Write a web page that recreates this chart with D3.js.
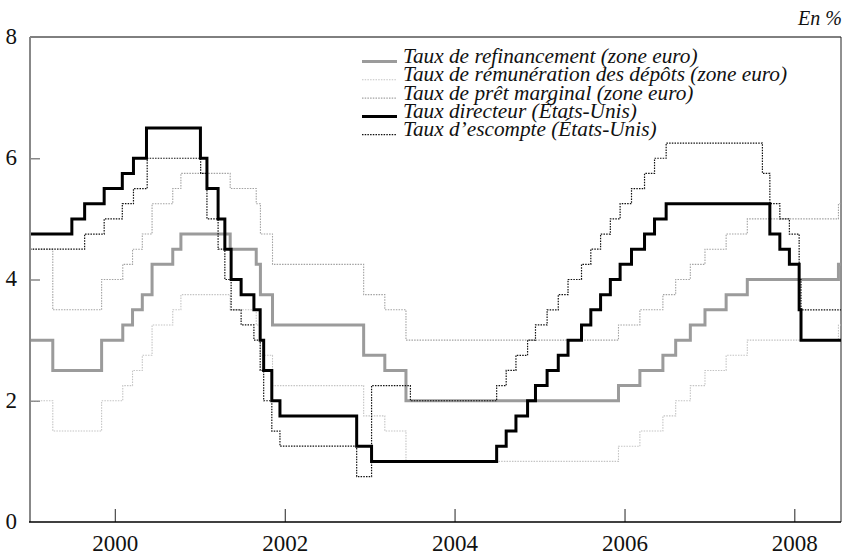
<!DOCTYPE html>
<html>
<head>
<meta charset="utf-8">
<script src="https://cdn.jsdelivr.net/npm/d3@7"></script>
<style>
  html, body { margin: 0; padding: 0; background: #fff; }
  svg { display: block; }
</style>
</head>
<body>
<svg id="chart" width="850" height="557"></svg>
<script>
// ---- Data (change dates and rates, %) ----
const refiDates = ["1999-01-01","1999-04-09","1999-11-05","2000-02-04","2000-03-17","2000-04-28","2000-06-09","2000-09-06","2000-10-11","2001-05-11","2001-08-31","2001-09-18","2001-11-09","2002-12-06","2003-03-07","2003-06-06","2005-12-06","2006-03-08","2006-06-15","2006-08-09","2006-10-11","2006-12-13","2007-03-14","2007-06-13","2008-07-09"];
const refiValues = [3.00,2.50,3.00,3.25,3.50,3.75,4.25,4.50,4.75,4.50,4.25,3.75,3.25,2.75,2.50,2.00,2.25,2.50,2.75,3.00,3.25,3.50,3.75,4.00,4.25];
const depositValues = [2.00,1.50,2.00,2.25,2.50,2.75,3.25,3.50,3.75,3.50,3.25,2.75,2.25,1.75,1.50,1.00,1.25,1.50,1.75,2.00,2.25,2.50,2.75,3.00,3.25];
const marginalValues = [4.50,3.50,4.00,4.25,4.50,4.75,5.25,5.50,5.75,5.50,5.25,4.75,4.25,3.75,3.50,3.00,3.25,3.50,3.75,4.00,4.25,4.50,4.75,5.00,5.25];

const fedDates = ["1999-01-01","1999-06-30","1999-08-24","1999-11-16","2000-02-02","2000-03-21","2000-05-16","2001-01-03","2001-01-31","2001-03-20","2001-04-18","2001-05-15","2001-06-27","2001-08-21","2001-09-17","2001-10-02","2001-11-06","2001-12-11","2002-11-06","2003-01-09","2004-06-30","2004-08-10","2004-09-21","2004-11-10","2004-12-14","2005-02-02","2005-03-22","2005-05-03","2005-06-30","2005-08-09","2005-09-20","2005-11-01","2005-12-13","2006-01-31","2006-03-28","2006-05-10","2006-06-29","2007-09-18","2007-10-31","2007-12-11","2008-01-22","2008-01-30"];
const fedValues = [4.75,5.00,5.25,5.50,5.75,6.00,6.50,6.00,5.50,5.00,4.50,4.00,3.75,3.50,3.00,2.50,2.00,1.75,1.25,1.00,1.25,1.50,1.75,2.00,2.25,2.50,2.75,3.00,3.25,3.50,3.75,4.00,4.25,4.50,4.75,5.00,5.25,4.75,4.50,4.25,3.50,3.00];

const discDates = ["1999-01-01","1999-08-24","1999-11-16","2000-02-02","2000-03-21","2000-05-19","2001-01-04","2001-01-31","2001-03-20","2001-04-18","2001-05-15","2001-06-27","2001-08-21","2001-09-17","2001-10-02","2001-11-06","2001-12-11","2002-11-06","2003-01-09","2003-06-25","2004-06-30","2004-08-10","2004-09-21","2004-11-10","2004-12-14","2005-02-02","2005-03-22","2005-05-03","2005-06-30","2005-08-09","2005-09-20","2005-11-01","2005-12-13","2006-01-31","2006-03-28","2006-05-10","2006-06-29","2007-08-17","2007-09-18","2007-10-31","2007-12-11","2008-01-22","2008-01-30"];
const discValues = [4.50,4.75,5.00,5.25,5.50,6.00,5.75,5.00,4.50,4.00,3.50,3.25,3.00,2.50,2.00,1.50,1.25,0.75,2.25,2.00,2.25,2.50,2.75,3.00,3.25,3.50,3.75,4.00,4.25,4.50,4.75,5.00,5.25,5.50,5.75,6.00,6.25,5.75,5.25,5.00,4.75,4.00,3.50];

const xStart = "1999-01-01";
const xEnd = "2008-07-20";
const xTickYears = [2000, 2002, 2004, 2006, 2008];
const yTicks = [0, 2, 4, 6, 8];
const legendLabels = [
  "Taux de refinancement (zone euro)",
  "Taux de rémunération des dépôts (zone euro)",
  "Taux de prêt marginal (zone euro)",
  "Taux directeur (États-Unis)",
  "Taux d’escompte (États-Unis)"
];
const unitLabel = "En %";

// ---- Layout ----
const FONT = "'Liberation Serif', 'Times New Roman', Times, 'DejaVu Serif', serif";
const L = 30, R = 841, T = 37, B = 522;
const parse = d3.utcParse("%Y-%m-%d");
const x = d3.scaleUtc().domain([parse(xStart), parse(xEnd)]).range([L, R]);
const y = d3.scaleLinear().domain([0, 8]).range([B, T]);

const svg = d3.select("#chart");

function series(dates, values) {
  const pts = dates.map((d, i) => ({ date: parse(d), value: values[i] }));
  pts.push({ date: parse(xEnd), value: values[values.length - 1] });
  return pts;
}

const styles = [
  { color: "#9b9b9b", width: 3, dash: null },          // refi
  { color: "#c4c4c4", width: 1.1, dash: "1.5,1.2" },   // deposit
  { color: "#a2a2a2", width: 1.1, dash: "1.5,1.2" },   // marginal
  { color: "#000000", width: 3, dash: null },          // fed
  { color: "#111111", width: 1.2, dash: "1.5,1.2" }    // discount
];

const data = [
  series(refiDates, refiValues),
  series(refiDates, depositValues),
  series(refiDates, marginalValues),
  series(fedDates, fedValues),
  series(discDates, discValues)
];

const line = d3.line().x(d => x(d.date)).y(d => y(d.value)).curve(d3.curveStepAfter);

// Frame (top and right)
svg.append("line").attr("x1", L).attr("x2", R).attr("y1", T).attr("y2", T)
  .attr("stroke", "#000").attr("stroke-width", 1);
svg.append("line").attr("x1", R).attr("x2", R).attr("y1", T).attr("y2", B)
  .attr("stroke", "#222").attr("stroke-width", 1);

// X ticks (inside, upward)
const xAxis = d3.axisBottom(x)
  .tickValues(xTickYears.map(yr => new Date(Date.UTC(yr, 0, 1))))
  .tickSize(-13).tickPadding(13).tickFormat(d3.utcFormat("%Y"));
const gx = svg.append("g").attr("transform", `translate(0,${B})`).call(xAxis);
gx.attr("font-family", null).attr("font-size", null);
gx.select(".domain").remove();
gx.selectAll(".tick line").attr("stroke", "#555").attr("stroke-width", 1.3);
gx.selectAll(".tick text").style("font-family", FONT).style("font-size", "23px")
  .attr("fill", "#111");

// Y axis ticks (inside, rightward) and labels
const yAxis = d3.axisLeft(y).tickValues(yTicks).tickSize(-10).tickPadding(13);
const gy = svg.append("g").attr("transform", `translate(${L},0)`).call(yAxis);
gy.attr("font-family", null).attr("font-size", null);
gy.select(".domain").remove();
gy.selectAll(".tick line").attr("stroke", "#888").attr("stroke-width", 1.5)
  .filter(d => d === 0 || d === 8).remove();
gy.selectAll(".tick text").style("font-family", FONT).style("font-size", "23px")
  .attr("fill", "#111").attr("dy", "0.28em");

// Lines: deposit, marginal, refi, discount, fed
[1, 2, 0, 4, 3].forEach(i => {
  const s = styles[i];
  svg.append("path").datum(data[i])
    .attr("d", line)
    .attr("fill", "none")
    .attr("stroke", s.color)
    .attr("stroke-width", s.width)
    .attr("stroke-dasharray", s.dash)
    .attr("stroke-linejoin", "miter")
    .attr("stroke-linecap", "butt");
});

// Axis lines
svg.append("line").attr("x1", L).attr("x2", L).attr("y1", T).attr("y2", B)
  .attr("stroke", "#888").attr("stroke-width", 2);
svg.append("line").attr("x1", L - 1).attr("x2", R).attr("y1", B).attr("y2", B)
  .attr("stroke", "#000").attr("stroke-width", 1.5);

// Legend
const legend = svg.append("g");
legendLabels.forEach((lab, i) => {
  const yb = 63 + i * 18.3;
  const s = styles[i];
  legend.append("line").attr("x1", 362).attr("x2", 397)
    .attr("y1", yb - 1.5).attr("y2", yb - 1.5)
    .attr("stroke", s.color).attr("stroke-width", s.width)
    .attr("stroke-dasharray", s.dash);
  legend.append("text").attr("x", 403).attr("y", yb)
    .style("font-family", FONT).style("font-size", "21.3px").style("font-style", "italic")
    .attr("fill", "#111").text(lab);
});

// Unit label
svg.append("text").attr("x", 842).attr("y", 25).attr("text-anchor", "end")
  .style("font-family", FONT).style("font-size", "20px").style("font-style", "italic")
  .attr("fill", "#111").text(unitLabel);
</script>
</body>
</html>
